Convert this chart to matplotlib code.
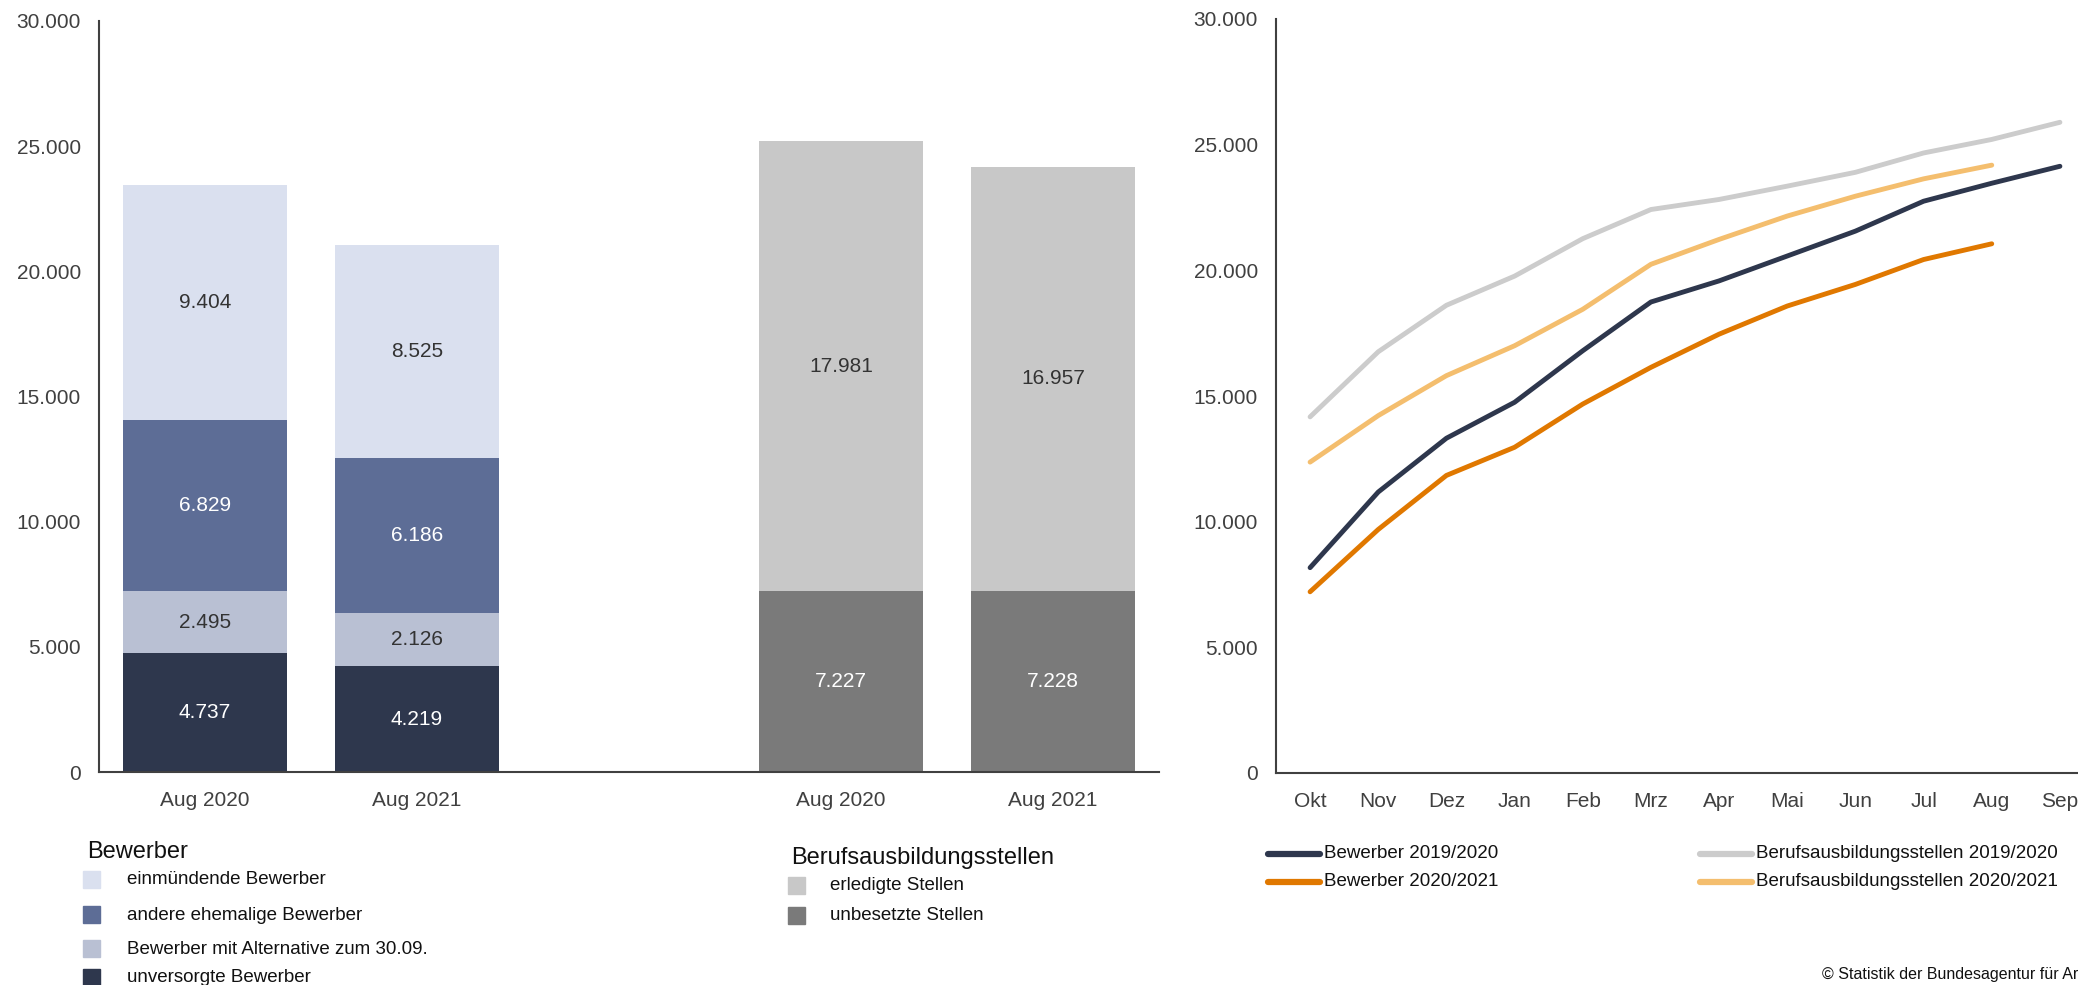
import matplotlib
matplotlib.use("Agg")
import matplotlib.pyplot as plt
from matplotlib.patches import Rectangle
from matplotlib.lines import Line2D
from matplotlib.ticker import FuncFormatter

plt.rcParams["font.family"] = ["Liberation Sans", "DejaVu Sans"]

W, H = 2078, 985

# left chart: stacked bars
bar_labels = ["Aug 2020", "Aug 2021", "Aug 2020", "Aug 2021"]
bar_pos = [0, 1, 3, 4]

bew_names = ["unversorgte Bewerber", "Bewerber mit Alternative zum 30.09.",
             "andere ehemalige Bewerber", "einmündende Bewerber"]
bew_values = [[4737, 4219], [2495, 2126], [6829, 6186], [9404, 8525]]
bew_colors = ["#2E374D", "#B9C0D3", "#5D6D96", "#DAE0EF"]
bew_textc = ["white", "#333333", "white", "#333333"]

stl_names = ["unbesetzte Stellen", "erledigte Stellen"]
stl_values = [[7227, 7228], [17981, 16957]]
stl_colors = ["#7A7A7A", "#C8C8C8"]
stl_textc = ["white", "#333333"]

# right chart: cumulative lines
months = ["Okt", "Nov", "Dez", "Jan", "Feb", "Mrz", "Apr", "Mai", "Jun", "Jul", "Aug", "Sep"]
bew_1920 = [8170, 11180, 13320, 14750, 16800, 18740, 19580, 20570, 21560, 22750, 23465, 24140]
bew_2021 = [7210, 9690, 11840, 12960, 14680, 16140, 17460, 18580, 19440, 20430, 21056]
stl_1920 = [14170, 16760, 18610, 19770, 21260, 22420, 22820, 23350, 23900, 24670, 25208, 25890]
stl_2021 = [12370, 14220, 15810, 17000, 18450, 20240, 21230, 22160, 22950, 23640, 24185]

line_series = [
    ("Berufsausbildungsstellen 2019/2020", stl_1920, "#CCCCCC"),
    ("Berufsausbildungsstellen 2020/2021", stl_2021, "#F4BE6E"),
    ("Bewerber 2019/2020", bew_1920, "#2E374D"),
    ("Bewerber 2020/2021", bew_2021, "#E07800"),
]

axis_c = "#404040"
tick_c = "#404040"


def fx(px):
    return px / W


def fy(py):
    return 1 - py / H


def de_fmt(v, _):
    return f"{int(round(v)):,}".replace(",", ".")


fig = plt.figure(figsize=(W / 100, H / 100), dpi=100)

ax1 = fig.add_axes([fx(99), fy(772), fx(1159 - 99), (772 - 21) / H])
ax2 = fig.add_axes([fx(1276), fy(773), fx(2094 - 1276), (773 - 19) / H])

for ax in (ax1, ax2):
    ax.set_ylim(0, 30000)
    ax.set_yticks(range(0, 30001, 5000))
    ax.yaxis.set_major_formatter(FuncFormatter(de_fmt))
    for s in ("top", "right"):
        ax.spines[s].set_visible(False)
    for s in ("left", "bottom"):
        ax.spines[s].set_color(axis_c)
        ax.spines[s].set_linewidth(1.5)
    ax.tick_params(length=0, labelsize=15, labelcolor=tick_c)
    ax.tick_params(axis="y", pad=13)
    ax.tick_params(axis="x", pad=14)

# stacked bars
width = 0.77
bottom = [0, 0]
for vals, col, tc in zip(bew_values, bew_colors, bew_textc):
    ax1.bar(bar_pos[:2], vals, width=width, bottom=bottom, color=col)
    for x, b, v in zip(bar_pos[:2], bottom, vals):
        ax1.text(x, b + v / 2, de_fmt(v, None), ha="center", va="center",
                 fontsize=15, color=tc)
    bottom = [b + v for b, v in zip(bottom, vals)]

bottom = [0, 0]
for vals, col, tc in zip(stl_values, stl_colors, stl_textc):
    ax1.bar(bar_pos[2:], vals, width=width, bottom=bottom, color=col)
    for x, b, v in zip(bar_pos[2:], bottom, vals):
        ax1.text(x, b + v / 2, de_fmt(v, None), ha="center", va="center",
                 fontsize=15, color=tc)
    bottom = [b + v for b, v in zip(bottom, vals)]

ax1.set_xlim(-0.5, 4.5)
ax1.set_xticks(bar_pos)
ax1.set_xticklabels(bar_labels)

# lines
for name, vals, col in line_series:
    ax2.plot(range(len(vals)), vals, color=col, lw=3.5, solid_capstyle="round")
ax2.set_xlim(-0.5, 11.5)
ax2.set_xticks(range(len(months)))
ax2.set_xticklabels(months)

# left legend: Bewerber
fig.text(fx(87), fy(852), "Bewerber", fontsize=17, va="center", color="#111111")
bew_rows = [880, 915, 949, 978]
for i, row in zip([3, 2, 1, 0], bew_rows):
    fig.add_artist(Rectangle((fx(83), fy(row + 8)), fx(17), 17 / H,
                             transform=fig.transFigure, color=bew_colors[i]))
    fig.text(fx(127), fy(row), bew_names[i], fontsize=13.5, va="center", color="#111111")

# middle legend: Stellen
fig.text(fx(791), fy(858), "Berufsausbildungsstellen", fontsize=17, va="center",
         color="#111111")
for i, row in zip([1, 0], [886, 916]):
    fig.add_artist(Rectangle((fx(788), fy(row + 8)), fx(17), 17 / H,
                             transform=fig.transFigure, color=stl_colors[i]))
    fig.text(fx(830), fy(row), stl_names[i], fontsize=13.5, va="center", color="#111111")

# right legend: lines
leg_pos = {
    "Bewerber 2019/2020": (1268, 854),
    "Bewerber 2020/2021": (1268, 882),
    "Berufsausbildungsstellen 2019/2020": (1700, 854),
    "Berufsausbildungsstellen 2020/2021": (1700, 882),
}
for name, vals, col in line_series:
    x0, y0 = leg_pos[name]
    fig.add_artist(Line2D([fx(x0), fx(x0 + 52)], [fy(y0), fy(y0)], lw=4.5,
                          color=col, solid_capstyle="round",
                          transform=fig.transFigure))
    fig.text(fx(x0 + 56), fy(y0), name, fontsize=13.5, va="center", color="#111111")

# source note, cut at the right edge as in the original export
fig.text(fx(1822), fy(974), "© Statistik der Bundesagentur für Arbeit",
         fontsize=11.5, va="center", color="#111111")

fig.savefig("out.png", dpi=100)
